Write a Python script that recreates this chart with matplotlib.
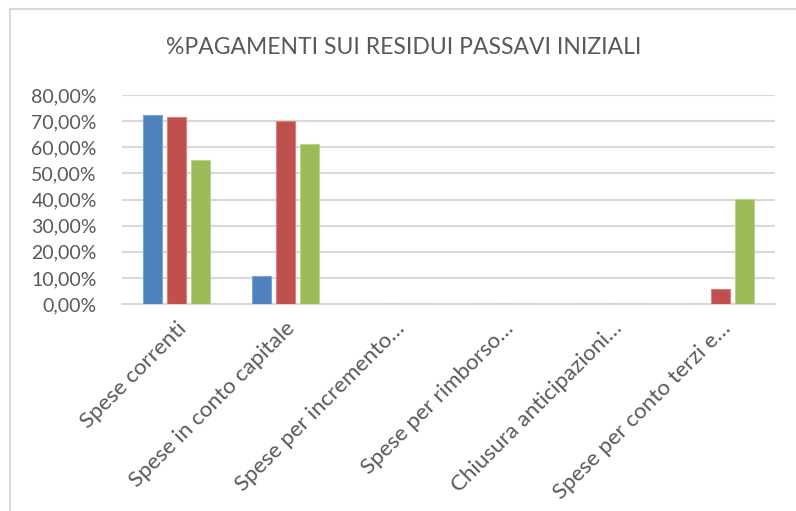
import matplotlib
matplotlib.use('Agg')
import matplotlib.pyplot as plt
import matplotlib.patches as patches
from matplotlib.ticker import FuncFormatter, MultipleLocator
import numpy as np

# Data
categories = [
    "Spese correnti",
    "Spese in conto capitale",
    "Spese per incremento…",
    "Spese per rimborso…",
    "Chiusura anticipazioni…",
    "Spese per conto terzi e…",
]
serie_1 = [0.725, 0.108, 0.0, 0.0, 0.0, 0.0]
serie_2 = [0.717, 0.700, 0.0, 0.0, 0.0, 0.056]
serie_3 = [0.551, 0.612, 0.0, 0.0, 0.0, 0.402]
series = [serie_1, serie_2, serie_3]
colors = ['#4F81BD', '#C0504D', '#9BBB59']
edges = ['#7FA3D3', '#D9827F', '#BCD48C']

title = "%PAGAMENTI SUI RESIDUI PASSAVI INIZIALI"
text_color = '#595959'
grid_color = '#D9D9D9'

plt.rcParams['font.family'] = ['Lato', 'DejaVu Sans']

fig = plt.figure(figsize=(7.96, 5.11), dpi=100)
ax = fig.add_axes([0.153, 0.405, 0.821, 0.409])

x = np.arange(len(categories))
step = 0.22
width = 0.175
for i, vals in enumerate(series):
    ax.bar(x + (i - 1) * step, vals, width=width, color=colors[i],
           edgecolor=edges[i], linewidth=0.8, zorder=3)

ax.set_xlim(-0.5, len(categories) - 0.5)
ax.set_ylim(0, 0.8)
ax.yaxis.set_major_locator(MultipleLocator(0.1))
ax.yaxis.set_major_formatter(FuncFormatter(lambda v, p: f"{v*100:.2f}%".replace('.', ',')))
ax.grid(axis='y', color=grid_color, linewidth=1.5, zorder=0)
for s in ['top', 'right', 'left']:
    ax.spines[s].set_visible(False)
ax.spines['bottom'].set_color(grid_color)
ax.spines['bottom'].set_linewidth(1.5)
ax.tick_params(axis='both', length=0, labelsize=14, labelcolor=text_color)
ax.tick_params(axis='y', pad=18)

ax.set_xticks(x)
ax.set_xticklabels(categories, rotation=45, ha='right', rotation_mode='anchor')
ax.tick_params(axis='x', pad=10, labelsize=16)

fig.text(0.5075, 0.908, title, ha='center', va='center', fontsize=16.5,
         color=text_color)

# chart border
fig.patches.append(patches.Rectangle((10 / 796, -0.05), 1.2, 1 - 9 / 511 + 0.05,
                                     transform=fig.transFigure, fill=False,
                                     edgecolor=grid_color, linewidth=1.5))

fig.savefig('out.png', dpi=100)
plt.close(fig)
